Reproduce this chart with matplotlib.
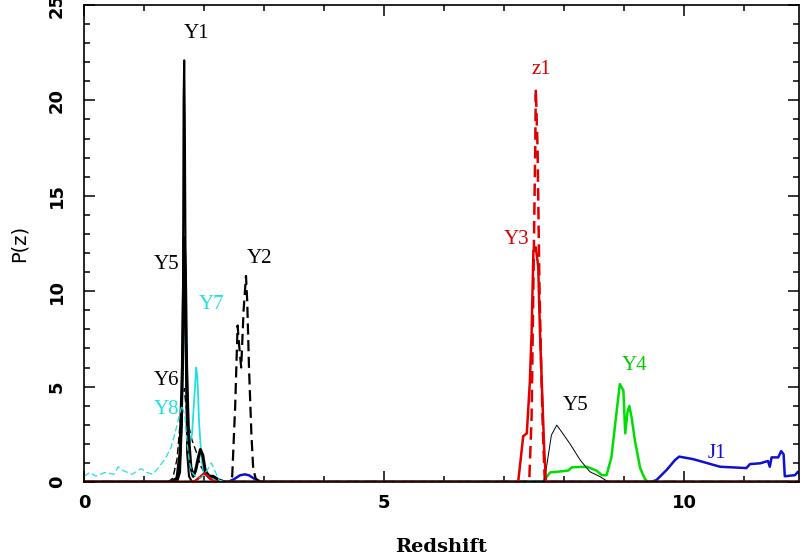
import numpy as np
import matplotlib
matplotlib.use("Agg")
import matplotlib.pyplot as plt
from matplotlib.ticker import MultipleLocator

# P(z) curves (redshift, probability)
y1_z = [0, 1.55, 1.60, 1.63, 1.65, 1.66, 1.67, 1.68, 1.69, 1.70, 1.72, 1.75, 1.80, 12]
y1_p = [0, 0, 0.5, 3, 10, 20, 22.1, 19, 13, 6, 1.5, 0.3, 0, 0]

y5a_z = [0, 1.45, 1.55, 1.60, 1.64, 1.67, 1.69, 1.71, 1.74, 1.78, 1.82, 1.86, 1.90, 1.94,
         1.98, 2.02, 2.08, 2.15, 2.25, 2.35, 12]
y5a_p = [0, 0, 0.2, 1.5, 6, 12.8, 11, 6, 2.5, 0.8, 0.3, 0.6, 1.2, 1.7,
         1.4, 0.6, 0.3, 0.3, 0.1, 0, 0]

y6_z = [0, 1.40, 1.48, 1.55, 1.60, 1.64, 1.67, 1.70, 1.74, 1.80, 1.88, 1.95, 2.05, 2.15, 12]
y6_p = [0, 0, 0.2, 1.2, 3.0, 4.6, 4.9, 4.0, 3.0, 2.2, 1.5, 0.8, 0.3, 0, 0]

y7_z = [0, 1.50, 1.58, 1.63, 1.66, 1.68, 1.70, 1.73, 1.76, 1.80, 1.84, 1.87, 1.89, 1.92,
        1.96, 2.00, 2.05, 2.12, 2.20, 12]
y7_p = [0, 0, 0.5, 3, 7, 9.8, 8, 4, 2, 2.5, 4.5, 6, 5.5, 3,
        1.2, 0.4, 0.5, 0.3, 0, 0]

y8_z = [0, 0.1, 0.2, 0.35, 0.5, 0.57, 0.65, 0.8, 0.95, 1.05, 1.15, 1.25, 1.35, 1.45,
        1.52, 1.58, 1.63, 1.68, 1.72, 1.76, 1.80, 1.86, 1.95, 2.05, 2.12, 2.18, 2.25, 2.35, 12]
y8_p = [0.3, 0.5, 0.3, 0.5, 0.4, 0.8, 0.6, 0.4, 0.7, 0.5, 0.4, 0.8, 1.2, 1.8,
        2.6, 3.4, 4.0, 3.5, 2.0, 1.0, 0.5, 0.3, 0.2, 0.6, 1.0, 0.6, 0.1, 0, 0]

y2_z = [0, 2.40, 2.47, 2.52, 2.56, 2.59, 2.62, 2.66, 2.70, 2.72, 2.75, 2.79, 2.82, 2.86, 2.92, 12]
y2_p = [0, 0, 0.3, 4, 8.2, 7, 6, 9, 10.8, 9.5, 6, 2.5, 0.7, 0.2, 0, 0]

y3_z = [0, 1.75, 1.85, 1.95, 2.00, 2.05, 2.15, 2.25, 7.20, 7.24, 7.32, 7.38, 7.43, 7.46,
        7.49, 7.53, 7.57, 7.60, 7.63, 7.67, 7.70, 12]
y3_p = [0, 0, 0.05, 0.3, 0.45, 0.35, 0.05, 0, 0, 0.1, 2.4, 2.55, 5.2, 7.8,
        12.1, 12.3, 11.3, 7.8, 5.2, 1.7, 0, 0]

z1_z = [0, 7.42, 7.46, 7.49, 7.52, 7.53, 7.56, 7.59, 7.62, 7.65, 7.68, 12]
z1_p = [0, 0, 3.4, 10.4, 17.4, 20.6, 17.4, 10.4, 6.0, 2.5, 0, 0]

y5b_z = [0, 7.66, 7.68, 7.79, 7.88, 7.96, 8.10, 8.27, 8.43, 8.60, 8.74, 12]
y5b_p = [0, 0, 0.2, 2.46, 2.98, 2.63, 2.0, 1.15, 0.54, 0.28, 0, 0]

y4_z = [0, 7.66, 7.68, 7.77, 7.93, 8.07, 8.13, 8.38, 8.54, 8.63, 8.71, 8.79, 8.88, 8.93,
        8.99, 9.02, 9.06, 9.09, 9.13, 9.18, 9.27, 9.35, 9.40, 12]
y4_p = [0, 0, 0.15, 0.5, 0.55, 0.6, 0.77, 0.8, 0.6, 0.36, 0.36, 1.3, 3.77, 5.13,
        4.8, 2.55, 3.7, 3.98, 3.33, 2.2, 0.72, 0.15, 0, 0]

j1_z = [0, 2.40, 2.50, 2.60, 2.68, 2.75, 2.85, 2.95, 3.00, 9.45, 9.54, 9.71, 9.85, 9.92,
        10.15, 10.6, 11.04, 11.1, 11.27, 11.4, 11.43, 11.46, 11.57, 11.62, 11.66, 11.68,
        11.85, 11.9, 11.95]
j1_p = [0, 0, 0.15, 0.35, 0.4, 0.35, 0.15, 0.02, 0, 0, 0.1, 0.63, 1.15, 1.33,
        1.2, 0.8, 0.73, 0.94, 0.98, 1.1, 0.8, 1.29, 1.29, 1.62, 1.45, 0.3,
        0.36, 0.54, 0.3]

# label text, position, colour
labels = [("Y1", 1.87, 23.5, "black"), ("z1", 7.63, 21.6, "#e00000"),
          ("Y3", 7.21, 12.7, "#e00000"), ("Y5", 1.38, 11.4, "black"),
          ("Y2", 2.92, 11.7, "black"), ("Y7", 2.12, 9.3, "#22e0e0"),
          ("Y6", 1.38, 5.3, "black"), ("Y8", 1.38, 3.8, "#22e0e0"),
          ("Y5", 8.2, 4.0, "black"), ("Y4", 9.18, 6.1, "#00cc00"),
          ("J1", 10.55, 1.5, "#1010d0")]

fig = plt.figure(figsize=(8, 5.6), dpi=100)
ax = fig.add_axes([84 / 800, 78 / 560, 715 / 800, 477 / 560])

dash = (5, 2.5)
ax.plot(j1_z, j1_p, color="#1010d0", lw=1.8)
ax.plot(y4_z, y4_p, color="#00dd00", lw=1.8)
ax.plot(z1_z, z1_p, color="#e00000", lw=1.8, dashes=dash)
ax.plot(y5b_z, y5b_p, color="black", lw=0.7)
ax.plot(y2_z, y2_p, color="black", lw=1.6, dashes=dash)
ax.plot(y6_z, y6_p, color="black", lw=1.0, dashes=dash)
ax.plot(y7_z, y7_p, color="#22e0e0", lw=1.3)
ax.plot(y5a_z, y5a_p, color="black", lw=2.2)
ax.plot(y1_z, y1_p, color="black", lw=1.5)
ax.plot(y3_z, y3_p, color="#e00000", lw=1.8)
ax.plot(y8_z, y8_p, color="#22e0e0", lw=0.9, dashes=dash)

for txt, x, y, c in labels:
    ax.text(x, y, txt, color=c, fontsize=15, family="Liberation Serif",
            ha="center", va="center")

ax.set_xlim(0, 715 / 60)
ax.set_ylim(0, 25)
ax.xaxis.set_major_locator(MultipleLocator(5))
ax.xaxis.set_minor_locator(MultipleLocator(1))
ax.yaxis.set_major_locator(MultipleLocator(5))
ax.yaxis.set_minor_locator(MultipleLocator(1))
ax.tick_params(which="both", direction="in", top=True, right=True, width=1.1)
ax.tick_params(which="major", length=8)
ax.tick_params(which="minor", length=4.5)
ax.tick_params(axis="x", pad=9, labelsize=13)
ax.tick_params(axis="y", pad=13, labelsize=13, labelrotation=90)
for lab in ax.get_xticklabels() + ax.get_yticklabels():
    lab.set_family("DejaVu Sans")
    lab.set_fontweight("bold")
for lab in ax.get_yticklabels():
    lab.set_va("center")
for s in ax.spines.values():
    s.set_linewidth(1.2)

ax.set_xlabel("Redshift", family="DejaVu Serif", fontsize=14, fontweight="bold", labelpad=18)
ax.set_ylabel("P(z)", family="DejaVu Sans", fontsize=14, labelpad=14)

fig.savefig("out.png", dpi=100)
